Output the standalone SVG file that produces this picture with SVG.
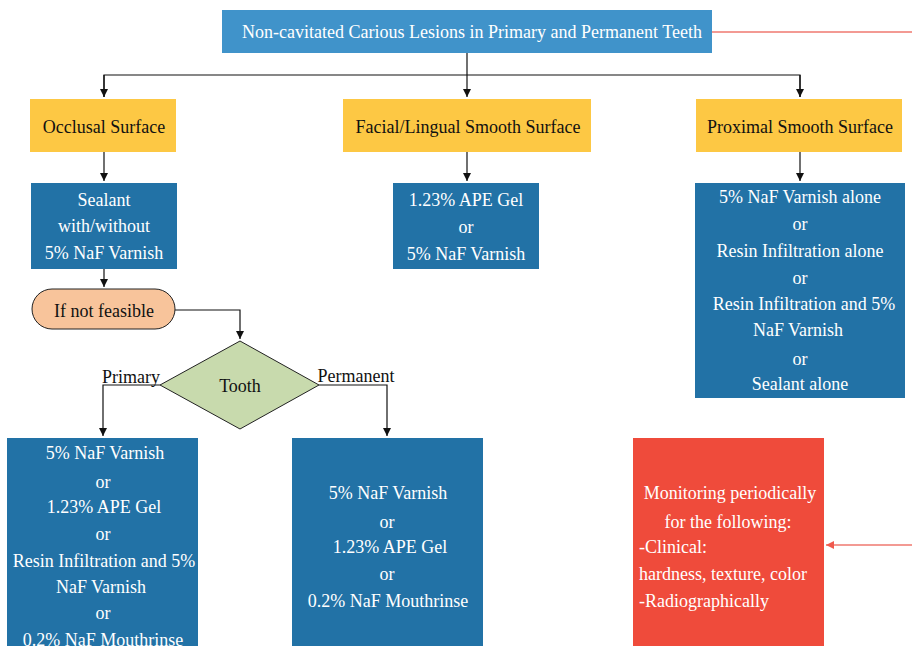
<svg xmlns="http://www.w3.org/2000/svg" width="912" height="646" viewBox="0 0 912 646" font-family="'Liberation Serif', 'Times New Roman', Times, serif" font-size="18">
<defs>
<style type="text/css">
text{font-family:'Liberation Serif','Times New Roman',Times,serif;font-size:18px;text-anchor:middle}
.w{fill:#ffffff}
.k{fill:#111111}
.blue{fill:#2272A6}
.yel{fill:#FDC844}
.ln{fill:none;stroke:#111111;stroke-width:1.2}
.rl{fill:none;stroke:#F07A70;stroke-width:1.5}
.l{text-anchor:start}
</style>
<marker id="ah" viewBox="0 0 10 10" refX="10" refY="5" markerWidth="8" markerHeight="8" markerUnits="userSpaceOnUse" orient="auto">
<path d="M0,0 L10,5 L0,10 z" fill="#111111"/>
</marker>
<marker id="ahr" viewBox="0 0 10 10" refX="10" refY="5" markerWidth="8" markerHeight="8" markerUnits="userSpaceOnUse" orient="auto">
<path d="M0,0 L10,5 L0,10 z" fill="#F05A4E"/>
</marker>
</defs>
<rect width="912" height="646" fill="#ffffff"/>
<g id="connectors">
<path class="rl" d="M712,32 H920 V545 H826" marker-end="url(#ahr)"/>
<path class="ln" d="M467,53 V97" marker-end="url(#ah)"/>
<path class="ln" d="M104,97 V75 H800 V97" />
<path class="ln" d="M104,75 V97" marker-end="url(#ah)"/>
<path class="ln" d="M800,75 V97" marker-end="url(#ah)"/>
<path class="ln" d="M104,152 V181" marker-end="url(#ah)"/>
<path class="ln" d="M467,152 V181" marker-end="url(#ah)"/>
<path class="ln" d="M800,152 V181" marker-end="url(#ah)"/>
<path class="ln" d="M104,269 V287" marker-end="url(#ah)"/>
<path class="ln" d="M175,310 H240 V339" marker-end="url(#ah)"/>
<path class="ln" d="M160,385 H103 V436" marker-end="url(#ah)"/>
<path class="ln" d="M319,385 H387 V436" marker-end="url(#ah)"/>
<text class="k" x="131" y="383">Primary</text>
<text class="k" x="356" y="382">Permanent</text>
</g>
<g id="top">
<rect x="222" y="10" width="490" height="43" fill="#4093CA"/>
<text class="w" x="472" y="38">Non-cavitated Carious Lesions in Primary and Permanent Teeth</text>
</g>
<g id="occlusal">
<rect class="yel" x="30" y="99" width="146" height="53"/>
<text class="k" x="104" y="133">Occlusal Surface</text>
</g>
<g id="facial">
<rect class="yel" x="343" y="99" width="248" height="53"/>
<text class="k" x="468" y="133">Facial/Lingual Smooth Surface</text>
</g>
<g id="proximal">
<rect class="yel" x="696" y="99" width="206" height="53"/>
<text class="k" x="800" y="133">Proximal Smooth Surface</text>
</g>
<g id="sealant">
<rect class="blue" x="31" y="183" width="146" height="86"/>
<text class="w" x="104" y="206">Sealant</text>
<text class="w" x="104" y="232">with/without</text>
<text class="w" x="104" y="259">5% NaF Varnish</text>
</g>
<g id="facial-tx">
<rect class="blue" x="393" y="183" width="146" height="86"/>
<text class="w" x="466" y="206">1.23% APE Gel</text>
<text class="w" x="466" y="233">or</text>
<text class="w" x="466" y="260">5% NaF Varnish</text>
</g>
<g id="proximal-tx">
<rect class="blue" x="695" y="183" width="210" height="215"/>
<text class="w" x="800" y="203">5% NaF Varnish alone</text>
<text class="w" x="800" y="230">or</text>
<text class="w" x="800" y="257">Resin Infiltration alone</text>
<text class="w" x="804" y="310">Resin Infiltration and 5%</text>
<text class="w" x="800" y="284">or</text>
<text class="w" x="798" y="336">NaF Varnish</text>
<text class="w" x="800" y="365">or</text>
<text class="w" x="800" y="390">Sealant alone</text>
</g>
<g id="notfeasible">
<rect x="32" y="289" width="143" height="40" rx="20" ry="20" fill="#F8C49B" stroke="#222222" stroke-width="1"/>
<text class="k" x="104" y="317">If not feasible</text>
</g>
<g id="tooth">
<path d="M240,341 L319,385 L240,429 L160,385 z" fill="#C8DAAD" stroke="#222222" stroke-width="1"/>
<text class="k" x="240" y="392">Tooth</text>
</g>
<g id="primary-tx">
<rect class="blue" x="7" y="438" width="191" height="210"/>
<text class="w" x="105" y="459">5% NaF Varnish</text>
<text class="w" x="103" y="488">or</text>
<text class="w" x="104" y="513">1.23% APE Gel</text>
<text class="w" x="103" y="540">or</text>
<text class="w" x="104" y="567">Resin Infiltration and 5%</text>
<text class="w" x="101" y="593">NaF Varnish</text>
<text class="w" x="103" y="619">or</text>
<text class="w" x="103" y="646">0.2% NaF Mouthrinse</text>
</g>
<g id="permanent-tx">
<rect class="blue" x="292" y="438" width="191" height="210"/>
<text class="w" x="388" y="499">5% NaF Varnish</text>
<text class="w" x="387" y="528">or</text>
<text class="w" x="390" y="553">1.23% APE Gel</text>
<text class="w" x="387" y="580">or</text>
<text class="w" x="388" y="607">0.2% NaF Mouthrinse</text>
</g>
<g id="monitoring">
<rect x="633" y="438" width="191" height="210" fill="#EF4B3B"/>
<text class="w" x="730" y="499">Monitoring periodically</text>
<text class="w" x="728" y="528">for the following:</text>
<text class="w l" x="639" y="553">-Clinical:</text>
<text class="w l" x="639" y="580">hardness, texture, color</text>
<text class="w l" x="639" y="607">-Radiographically</text>
</g>
</svg>
